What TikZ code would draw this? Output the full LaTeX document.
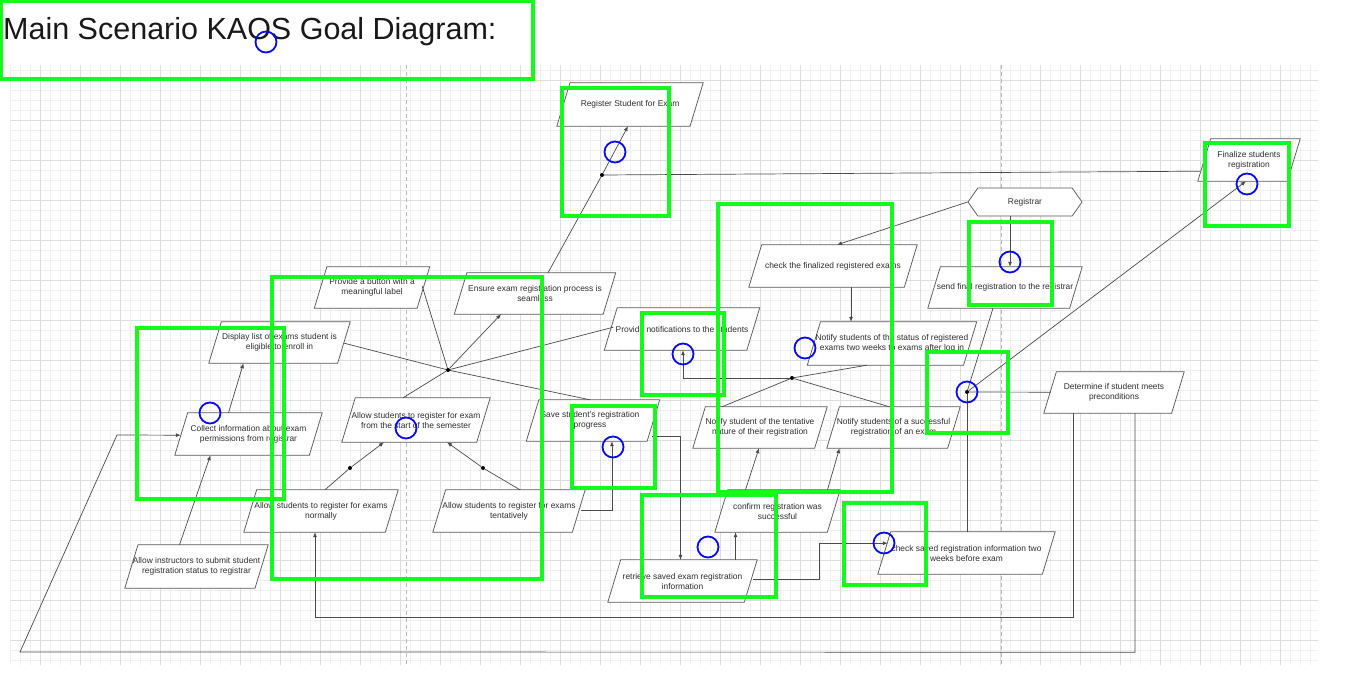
\documentclass[tikz,border=0pt]{standalone}
\usepackage{fontspec}
\setmainfont{Liberation Sans}
\usetikzlibrary{shapes.geometric,shapes.symbols,arrows.meta,calc}
\definecolor{grn}{RGB}{20,250,30}
\definecolor{blu}{RGB}{10,10,240}
\definecolor{nodeline}{RGB}{90,90,90}
\definecolor{conn}{RGB}{75,75,75}
\definecolor{txt}{RGB}{45,45,45}
\definecolor{titlec}{RGB}{25,25,25}
\definecolor{gminor}{RGB}{240,240,240}
\definecolor{gmajor}{RGB}{222,222,222}
\definecolor{pagebrk}{RGB}{185,185,185}
\tikzset{
  gbox/.style={rectangle, inner sep=0pt, draw=none},
  goalline/.style={draw=nodeline, fill=white, line width=0.75pt, line join=miter},
  gtext/.style={font=\fontsize{8.4}{10}\selectfont, text=txt, align=center, inner sep=0pt},
  ln/.style={draw=conn, line width=0.7pt},
  arr/.style={ln, -{Latex[length=5pt,width=4pt]}},
  jdot/.style={circle, fill=black, inner sep=0pt, minimum size=4pt},
  greenbox/.style={draw=grn, line width=4pt},
  bluering/.style={draw=blu, line width=1.8pt},
}
\newcommand\goalnode[6]{%
  \node[gbox, minimum width=#4pt, minimum height=#5pt] (#1) at (#2,#3) {};
  \path[goalline] (#1.south west) -- ($(#1.south east)+(-0.306*#5,0)$) -- (#1.north east)
     -- ($(#1.north west)+(0.306*#5,0)$) -- cycle;
  \node[gtext] at (#1.center) {#6};}
\begin{document}
\begin{tikzpicture}[x=1pt,y=-1pt]
\useasboundingbox (0,0) rectangle (1350,677);
\fill[white] (0,0) rectangle (1350,677);
% grid
\draw[gminor, line width=0.35pt, step=10pt] (10,65) grid (1318,665);
\draw[gmajor, line width=0.45pt, step=40pt] (10,65) grid (1318,665);
\draw[pagebrk, line width=0.7pt, dash pattern=on 4pt off 3pt] (406,65) -- (406,665);
\draw[pagebrk, line width=0.7pt, dash pattern=on 4pt off 3pt] (1001,65) -- (1001,665);

% title
\node[anchor=base west, font=\fontsize{30.5}{36}\selectfont, text=titlec, inner sep=0pt] (title) at (3,40) {Main Scenario KAOS Goal Diagram:};

% goals
\goalnode{reg}{630}{104.5}{146}{43}{Register Student for Exam}
\goalnode{fin}{1249}{160}{102}{42}{Finalize students\\registration}
\goalnode{check}{833}{266}{168}{42}{check the finalized registered exams}
\goalnode{send}{1005}{287.5}{154}{41}{send final registration to the registrar}
\goalnode{notstat}{892}{343.5}{169}{43}{Notify students of the status of registered\\exams two weeks to exams after log in}
\goalnode{provnot}{682}{329}{155}{42}{Provide notifications to the students}
\goalnode{button}{372}{287.5}{115}{41}{Provide a button with a\\meaningful label}
\goalnode{ensure}{535}{293.5}{161}{41}{Ensure exam registration process is\\seamless}
\goalnode{display}{279.5}{342.5}{141}{41}{Display list of exams student is\\eligible to enroll in}
\goalnode{start}{416}{420}{148}{44}{Allow students to register for exam\\from the start of the semester}
\goalnode{save}{593}{420.5}{133}{41}{}
\node[gtext] at (590,420.5) {Save student's registration\\progress};
\goalnode{collect}{248.5}{434}{147}{42}{Collect information about exam\\permissions from registrar}
\goalnode{instr}{196.5}{566.5}{143}{43}{Allow instructors to submit student\\registration status to registrar}
\goalnode{normal}{321}{511}{154}{42}{Allow students to register for exams\\normally}
\goalnode{tent}{509}{511}{152}{42}{Allow students to register for exams\\tentatively}
\goalnode{nottent}{760}{427.5}{134}{41}{Notify student of the tentative\\nature of their registration}
\goalnode{notsucc}{893.5}{427.5}{133}{41}{Notify students of a successful\\registration of an exam}
\goalnode{confirm}{777.5}{511}{125}{42}{confirm registration was\\successful}
\goalnode{retrieve}{682.5}{581}{149}{42}{retrieve saved exam registration\\information}
\goalnode{checksaved}{966.5}{553}{177}{42}{check saved registration information two\\weeks before exam}
\goalnode{determine}{1114}{392.5}{140}{41}{Determine if student meets\\preconditions}

% agent
\node[signal, signal to=west and east, signal pointer angle=110, draw=nodeline, fill=white,
  line width=0.75pt, minimum width=114pt, minimum height=28pt, inner sep=0pt,
  font=\fontsize{8.4}{10}\selectfont, text=txt] (registrar) at (1025,202) {Registrar};

% junction dots
\node[jdot] (d1) at (602,175) {};
\node[jdot] (d2) at (448,370) {};
\node[jdot] (d3) at (350,468) {};
\node[jdot] (d4) at (483,468) {};
\node[jdot] (d5) at (792,378) {};
\node[jdot] (d6) at (967,392) {};

% connectors
\draw[ln] ($(ensure.north)+(13,0)$) -- (d1);
\draw[arr] (d1) -- ($(reg.south)+(-2,0)$);
\draw[ln] ($(fin.south west)+(2,-10)$) -- (d1);

\draw[ln] ($(button.south east)+(-7.5,-22)$) -- (d2);
\draw[ln] ($(display.south east)+(-6,-20)$) -- (d2);
\draw[arr] (d2) -- ($(ensure.south)+(-34,0)$);
\draw[ln] ($(provnot.south west)+(9,-23)$) -- (d2);
\draw[ln] ($(save.north)+(-3,0)$) -- (d2);
\draw[ln] ($(start.north)+(-13,0)$) -- (d2);

\draw[arr] (d3) -- ($(start.south)+(-32,0)$);
\draw[ln] ($(normal.north)+(4,0)$) -- (d3);
\draw[arr] (d4) -- ($(start.south)+(31,0)$);
\draw[ln] ($(tent.north)+(11,0)$) -- (d4);

\draw[arr] ($(collect.north)+(-20,0)$) -- ($(display.south)+(-36,0)$);
\draw[arr] ($(instr.north)+(-17,0)$) -- ($(collect.south)+(-38,0)$);

\draw[arr] ($(tent.south east)+(-4,-22)$) -| ($(save.south)+(19,0)$);
\draw[arr] ($(save.south east)+(-7.5,-4.5)$) -| ($(retrieve.north)+(-2,0)$);

\draw[arr] (d5) -| ($(provnot.south)+(1,0)$);
\draw[ln] ($(notstat.south)+(-25,0)$) -- (d5);
\draw[ln] (d5) -- ($(nottent.north)+(-38,0)$);
\draw[ln] (d5) -- ($(notsucc.north)+(-4,0)$);

\draw[arr] ($(confirm.north)+(-32,0)$) -- ($(nottent.south)+(-1,0)$);
\draw[arr] ($(confirm.north)+(50,0)$) -- ($(notsucc.south)+(-54,0)$);
\coordinate (rc) at ($(retrieve.north)+(53,0)$);
\draw[arr] (rc) -- (rc |- confirm.south);
\draw[arr] ($(retrieve.south east)+(-4,-23)$) -- ++(66,0) |- ($(checksaved.south west)+(10,-31)$);

\draw[arr] (registrar.west) -- ($(check.north)+(4,0)$);
\coordinate (rs) at ($(registrar.south)+(-15,0)$);
\draw[arr] (rs) -- (rs |- send.north);
\coordinate (cn) at ($(check.south)+(18,0)$);
\draw[arr] (cn) -- (cn |- notstat.north);

\draw[ln] ($(send.south)+(-12,0)$) -- (d6);
\draw[arr] (d6) -- ($(fin.south)+(-3,0)$);
\draw[ln] (d6) -- ($(determine.south west)+(7,-21)$);
\draw[ln] (d6) -- (d6 |- checksaved.north);

\coordinate (dt1) at ($(determine.south)+(-41,0)$);
\draw[arr] (dt1) -- ++(0,204) -| ($(normal.south)+(-6,0)$);
\coordinate (dt2) at ($(determine.south)+(21,0)$);
\draw[arr] (dt2) -- ++(0,239) -- (20,652) -- (117,435) -- ($(collect.south west)+(6,-20)$);

% overlay annotations
\draw[greenbox] (1,1) rectangle (533,79);
\draw[greenbox] (562,88) rectangle (669,216);
\draw[greenbox] (1205,143) rectangle (1289,226);
\draw[greenbox] (718,204) rectangle (892,492);
\draw[greenbox] (969,222) rectangle (1052,305);
\draw[greenbox] (272,277) rectangle (542,579);
\draw[greenbox] (137,328) rectangle (284,499);
\draw[greenbox] (642,313) rectangle (724,395);
\draw[greenbox] (927,352) rectangle (1008,433);
\draw[greenbox] (572,406) rectangle (655,488);
\draw[greenbox] (642,495) rectangle (776,597);
\draw[greenbox] (844,503) rectangle (926,585);

\foreach \cx/\cy in {266/42, 615/152, 1247/184, 210/413, 406/428, 683/354, 805/348, 1010/262, 967/392, 613/447, 708/547, 884/543}
  \draw[bluering] (\cx,\cy) circle[radius=10.5pt];
\end{tikzpicture}
\end{document}
